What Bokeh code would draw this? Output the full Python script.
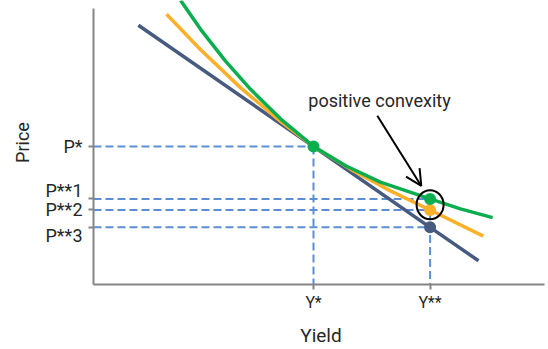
from bokeh.plotting import figure
from bokeh.models import Range1d, FixedTicker, Arrow, OpenHead, Label
from bokeh.embed import file_html
from bokeh.resources import INLINE

# ---- data (abstract yield / price units) ----
y_star = 5.0
y_2star = 7.65
p_star = 5.0
p_2star = [3.1, 2.7, 2.07]          # P**1 (green), P**2 (orange), P**3 (blue)
price_ticks = [p_star] + p_2star
price_labels = ["P*", "P**1\n", "P**2", "\nP**3"]   # newlines nudge the crowded labels apart
yield_ticks = [y_star, y_2star]
yield_labels = ["Y*", "Y**"]

blue_x = [1.02, 5.0, 7.65, 8.75]
blue_y = [9.39, 5.0, 2.07, 0.86]
orange_x = [1.66, 2.43, 3.34, 4.25, 5.0, 5.84, 6.75, 7.65, 8.86]
orange_y = [9.79, 8.51, 7.13, 5.91, 5.0, 4.18, 3.39, 2.7, 1.75]
green_x = [1.98, 2.43, 3.0, 3.57, 4.25, 5.0, 5.73, 6.52, 7.65, 8.34, 9.07]
green_y = [10.29, 9.25, 8.09, 7.07, 6.0, 5.0, 4.3, 3.71, 3.1, 2.74, 2.42]

FONT = "Roboto"
TXT = "#262626"
AXC = "#858585"
DASH = "#5B8ED6"
BLUE = "#475A80"
ORANGE = "#FBB02A"
GREEN = "#0AAE4E"

p = figure(width=548, height=349, output_backend="svg", toolbar_location=None,
           x_range=Range1d(0, 10.341), y_range=Range1d(0, 10.286),
           min_border_left=93, min_border_right=0, min_border_top=0, min_border_bottom=61)
p.outline_line_color = None
p.grid.visible = False
p.background_fill_color = "white"

# dashed guide lines
hx0 = [0, 0, 0, 0]
hx1 = [y_star, y_2star, y_2star, y_2star]
hy = price_ticks
p.segment(x0=hx0, y0=hy, x1=hx1, y1=hy, line_color=DASH, line_width=2, line_dash="8 4")
p.segment(x0=[y_star, y_2star], y0=[p_star, p_2star[0]], x1=[y_star, y_2star], y1=[0, 0],
          line_color=DASH, line_width=2, line_dash="8 4")

# curves
p.line(blue_x, blue_y, line_color=BLUE, line_width=3.5)
p.line(orange_x, orange_y, line_color=ORANGE, line_width=3.5)
p.line(green_x, green_y, line_color=GREEN, line_width=3.5)

# points
p.scatter([y_2star], [p_2star[2]], size=12, fill_color=BLUE, line_color=None)
p.scatter([y_2star], [p_2star[1]], size=12, fill_color=ORANGE, line_color=None)
p.scatter([y_star, y_2star], [p_star, p_2star[0]], size=12, fill_color=GREEN, line_color=None)

# circle highlight
p.ellipse(x=[y_2star], y=[2.89], width=27, height=29, width_units="screen", height_units="screen",
          fill_color=None, line_color="black", line_width=2)

# annotation arrow + text
p.add_layout(Arrow(end=OpenHead(size=16, line_width=2, line_color="black"),
                   x_start=6.45, y_start=6.11, x_end=7.45, y_end=3.57,
                   line_width=2, line_color="black"))
p.add_layout(Label(x=6.5, y=6.68, text="positive convexity", text_font=FONT,
                   text_font_size="18px", text_color=TXT, text_align="center",
                   text_baseline="middle"))

# axes
for ax in (p.xaxis[0], p.yaxis[0]):
    ax.axis_line_color = AXC
    ax.axis_line_width = 2
    ax.major_tick_line_color = AXC
    ax.major_tick_line_width = 2
    ax.major_tick_in = 0
    ax.major_tick_out = 5
    ax.minor_tick_line_color = None
    ax.major_label_text_font = FONT
    ax.major_label_text_color = TXT
    ax.axis_label_text_font = FONT
    ax.axis_label_text_color = TXT
    ax.axis_label_text_font_style = "normal"

p.yaxis.bounds = (0, 10)
p.xaxis.bounds = (0, 10.25)

p.yaxis.ticker = FixedTicker(ticks=price_ticks)
p.yaxis.major_label_overrides = dict(zip(price_ticks, price_labels))
p.yaxis.major_label_text_font_size = "18px"
p.yaxis.major_label_text_line_height = 0.8
p.yaxis.major_label_standoff = 6
p.yaxis.axis_label = "Price"
p.yaxis.axis_label_text_font_size = "18px"
p.yaxis.axis_label_standoff = 10

p.xaxis.ticker = FixedTicker(ticks=yield_ticks)
p.xaxis.major_label_overrides = dict(zip(yield_ticks, yield_labels))
p.xaxis.major_label_text_font_size = "16px"
p.xaxis.major_label_standoff = 3
p.xaxis.axis_label = "Yield"
p.xaxis.axis_label_text_font_size = "19px"
p.xaxis.axis_label_standoff = 9

open("out.html", "w").write(file_html(p, INLINE))
